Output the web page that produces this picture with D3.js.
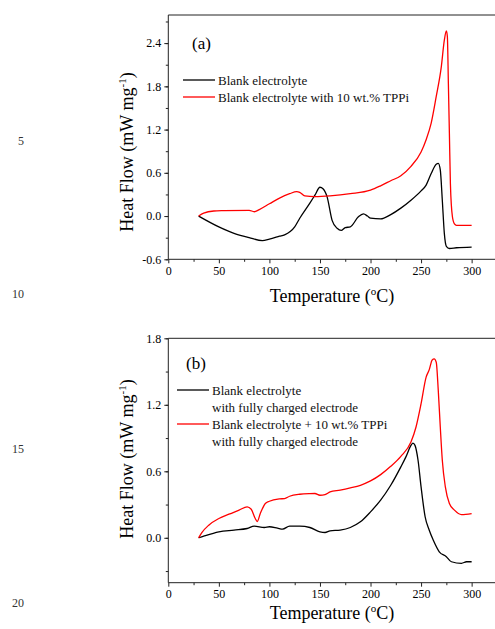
<!DOCTYPE html>
<html>
<head>
<meta charset="utf-8">
<script src="https://cdn.jsdelivr.net/npm/d3@7"></script>
<style>
  body { margin: 0; background: #fff; }
  svg { display: block; font-family: "Liberation Serif", "Times New Roman", serif; }
</style>
</head>
<body>
<script>
// panel (a): blank electrolyte / with TPPi
var tempA_black = [30,50,65,80,93,100,110,115,125,130,140,145,150,153,157,162,167,171,175,180,188,193,197,200,210,220,230,240,250,255,260,265,267,269,271,273,275,278,285,300];
var flowA_black = [0,-0.15,-0.24,-0.30,-0.34,-0.32,-0.28,-0.26,-0.15,-0.03,0.18,0.29,0.40,0.38,0.27,-0.06,-0.17,-0.20,-0.16,-0.15,-0.01,0.03,0,-0.03,-0.04,0.02,0.11,0.22,0.35,0.43,0.59,0.72,0.73,0.64,0.22,-0.24,-0.42,-0.45,-0.44,-0.43];
var tempA_red = [30,35,45,55,80,85,90,100,110,120,127,130,135,145,160,180,200,210,220,230,240,250,255,260,265,270,273,275,276,277,278,279,281,283,285,300];
var flowA_red = [0,0.04,0.07,0.075,0.08,0.06,0.09,0.17,0.25,0.31,0.34,0.33,0.28,0.27,0.28,0.31,0.36,0.42,0.49,0.56,0.69,0.89,1.06,1.29,1.66,2.07,2.44,2.57,2.49,1.84,1.15,0.45,-0.01,-0.11,-0.13,-0.13];

// panel (b): with fully charged electrode
var tempB_black = [30,35,50,65,78,85,95,100,108,113,120,130,140,150,155,160,170,180,190,200,210,220,230,235,240,242,244,247,250,254,258,262,268,275,280,290,295,300];
var flowB_black = [0,0.015,0.054,0.07,0.084,0.105,0.093,0.10,0.087,0.078,0.105,0.105,0.093,0.054,0.048,0.063,0.07,0.093,0.144,0.234,0.34,0.474,0.64,0.73,0.834,0.855,0.834,0.70,0.46,0.19,0.07,-0.02,-0.126,-0.17,-0.216,-0.23,-0.216,-0.216];
var tempB_red = [30,33,40,50,60,70,78,82,86,88,91,96,100,110,115,120,130,140,145,150,155,160,170,180,190,200,210,220,230,240,245,250,255,258,261,263,265,267,269,271,274,278,283,290,300];
var flowB_red = [0,0.045,0.114,0.174,0.213,0.25,0.28,0.258,0.174,0.147,0.22,0.31,0.33,0.351,0.354,0.375,0.393,0.399,0.40,0.384,0.39,0.414,0.43,0.45,0.474,0.513,0.57,0.645,0.735,0.864,1.0,1.21,1.45,1.515,1.605,1.614,1.584,1.33,1.0,0.70,0.46,0.31,0.25,0.21,0.219];

var xTicks = [0,50,100,150,200,250,300];
var yTicksA = [-0.6,0,0.6,1.2,1.8,2.4];
var yTicksB = [0,0.6,1.2,1.8];
var legendA = [["Blank electrolyte"], ["Blank electrolyte with 10 wt.% TPPi"]];
var legendB = [["Blank electrolyte", "with fully charged electrode"], ["Blank electrolyte + 10 wt.% TPPi", "with fully charged electrode"]];
var lineNumbers = ["5","10","15","20"];

var width = 495, height = 629;
var svg = d3.select("body").append("svg").attr("width", width).attr("height", height);

// page line numbers on the left
var lnY = [145, 298, 453, 607];
svg.selectAll(".lineno").data(lineNumbers).enter().append("text")
  .attr("x", 24).attr("y", (d, i) => lnY[i])
  .attr("text-anchor", "end").attr("font-size", 12).attr("fill", "#333")
  .text(d => d);

function panel(opt) {
  var x = d3.scaleLinear().domain([0, 325]).range([168.3, 168.3 + 325 * 1.0111]);
  var y = d3.scaleLinear().domain(opt.yDomain).range([opt.bottom, opt.top]);
  var g = svg.append("g");

  // frame top
  g.append("line").attr("x1", x(0)).attr("x2", width).attr("y1", opt.top).attr("y2", opt.top)
    .attr("stroke", "#222").attr("stroke-width", 1);

  // x axis
  var xMinor = d3.range(25, 325, 50);
  g.append("g").attr("transform", `translate(0,${opt.bottom})`)
    .call(d3.axisBottom(x).tickValues(xMinor).tickSize(2.5).tickFormat(""))
    .call(a => a.select(".domain").remove());
  var xa = g.append("g").attr("transform", `translate(0,${opt.bottom})`)
    .call(d3.axisBottom(x).tickValues(xTicks).tickSizeOuter(0).tickSize(4).tickPadding(3));
  xa.select(".domain").attr("d", `M${x(0)},0H${width}`);
  xa.attr("font-family", null).attr("font-size", 12);

  // y axis
  var yMinor = d3.range(Math.ceil(opt.yDomain[0] / 0.3) * 0.3, opt.yDomain[1], 0.3);
  g.append("g").attr("transform", `translate(${x(0)},0)`)
    .call(d3.axisLeft(y).tickValues(yMinor).tickSize(2.5).tickFormat(""))
    .call(a => a.select(".domain").remove());
  var ya = g.append("g").attr("transform", `translate(${x(0)},0)`)
    .call(d3.axisLeft(y).tickValues(opt.yTicks).tickSizeOuter(0).tickSize(4).tickPadding(3)
      .tickFormat(d => d.toFixed(1)));
  ya.select(".domain").attr("d", `M0,${opt.top}V${opt.bottom}`);
  ya.attr("font-family", null).attr("font-size", 12);
  g.selectAll(".domain, .tick line").attr("stroke", "#222");

  // curves
  var line = d3.line().x(d => x(d[0])).y(d => y(d[1])).curve(d3.curveMonotoneX);
  opt.series.forEach(s => {
    g.append("path").datum(d3.zip(s.t, s.v)).attr("d", line)
      .attr("fill", "none").attr("stroke", s.color).attr("stroke-width", 1.3);
  });

  // panel label
  g.append("text").attr("x", opt.labelX).attr("y", opt.labelY).attr("font-size", 17).text(opt.label);

  // legend
  opt.legend.forEach((lines, i) => {
    var ly = opt.legendY[i];
    g.append("line").attr("x1", opt.legendX).attr("x2", opt.legendX + 32)
      .attr("y1", ly).attr("y2", ly).attr("stroke", opt.series[i].color).attr("stroke-width", 1.3);
    lines.forEach((t, j) => {
      g.append("text").attr("x", opt.legendX + 35).attr("y", ly + 4.5 + j * 17)
        .attr("font-size", 13).attr("fill", "#111").text(t);
    });
  });

  // axis titles
  var yt = g.append("text").attr("transform", `translate(133,${opt.yTitleY}) rotate(-90)`)
    .attr("text-anchor", "middle").attr("font-size", 18);
  yt.append("tspan").text("Heat Flow (mW mg");
  yt.append("tspan").attr("font-size", 11).attr("dy", -7).text("-1");
  yt.append("tspan").attr("dy", 7).text(")");

  var xt = g.append("text").attr("x", 332).attr("y", opt.xTitleY)
    .attr("text-anchor", "middle").attr("font-size", 18);
  xt.append("tspan").text("Temperature (");
  xt.append("tspan").attr("font-size", 11).attr("dy", -7).text("o");
  xt.append("tspan").attr("dy", 7).text("C)");
}

panel({
  top: 15, bottom: 259.3, yDomain: [-0.6, 2.79], yTicks: yTicksA,
  series: [{t: tempA_black, v: flowA_black, color: "#000"}, {t: tempA_red, v: flowA_red, color: "#ff0000"}],
  label: "(a)", labelX: 192, labelY: 49,
  legend: legendA, legendX: 183, legendY: [80, 97],
  yTitleY: 152, xTitleY: 302
});

panel({
  top: 338.3, bottom: 582.7, yDomain: [-0.405, 1.8], yTicks: yTicksB,
  series: [{t: tempB_black, v: flowB_black, color: "#000"}, {t: tempB_red, v: flowB_red, color: "#ff0000"}],
  label: "(b)", labelX: 186, labelY: 369,
  legend: legendB, legendX: 177, legendY: [390, 424],
  yTitleY: 459, xTitleY: 619
});
</script>
</body>
</html>
